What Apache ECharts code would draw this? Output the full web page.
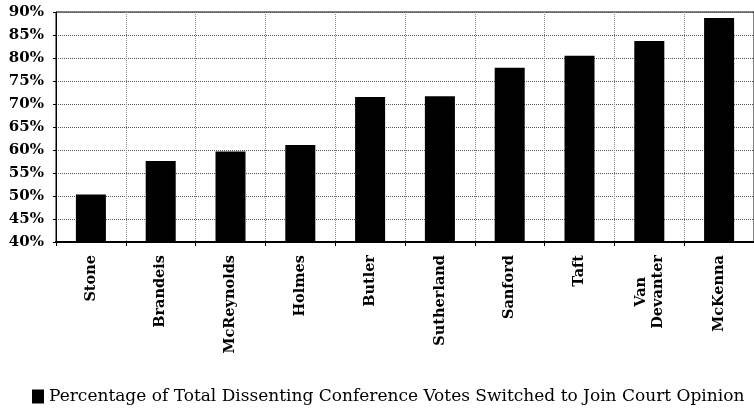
<!DOCTYPE html>
<html>
<head>
<meta charset="utf-8">
<script src="https://cdn.jsdelivr.net/npm/echarts@6/dist/echarts.min.js"></script>
<style>
  html, body { margin: 0; padding: 0; background: #fff; }
  #chart { width: 754px; height: 409px; }
</style>
</head>
<body>
<div id="chart"></div>
<script>
const justices = ["Stone", "Brandeis", "McReynolds", "Holmes", "Butler",
  "Sutherland", "Sanford", "Taft", "Van\nDevanter", "McKenna"];
const switchedPct = [50.3, 57.6, 59.7, 61.1, 71.5, 71.7, 77.9, 80.5, 83.7, 88.7];
const seriesName = "Percentage of Total Dissenting Conference Votes Switched to Join Court Opinion";

const chart = echarts.init(document.getElementById("chart"));

const labelFont = {
  color: "#000",
  fontFamily: "DejaVu Serif",
  fontWeight: "bold",
  fontSize: 14.5,
  lineHeight: 17,
};

const option = {
  animation: false,
  textStyle: { fontFamily: "DejaVu Serif" },
  grid: {
    left: 56,
    right: -2,
    top: 12,
    bottom: 167,
    show: true,
    borderColor: "#000",
    borderWidth: 1,
  },
  legend: {
    top: 383,
    left: 27,
    icon: "rect",
    itemWidth: 12,
    itemHeight: 14,
    textStyle: { fontFamily: "DejaVu Serif", fontSize: 17, color: "#000" },
    data: [seriesName],
  },
  xAxis: {
    type: "category",
    data: justices,
    axisLine: { lineStyle: { color: "#000", width: 2 } },
    axisTick: { show: true, length: 4, lineStyle: { color: "#000" } },
    splitLine: { show: true, lineStyle: { color: "#888", type: "dotted", width: 1 } },
    axisLabel: Object.assign({
      rotate: 90,
      margin: 13,
      interval: 0,
      formatter: (v) => v.indexOf("\n") >= 0
        ? v.split("\n").map((s) => "{c|" + s + "}").join("\n")
        : v,
      rich: { c: Object.assign({ align: "center" }, labelFont) },
    }, labelFont),
  },
  yAxis: {
    type: "value",
    min: 40,
    max: 90,
    interval: 5,
    axisLine: { show: true, lineStyle: { color: "#000", width: 1 } },
    axisTick: { show: true, length: 3, lineStyle: { color: "#000" } },
    splitLine: { show: true, lineStyle: { color: "#555", type: "dotted", width: 1 } },
    axisLabel: {
      formatter: "{value}%",
      margin: 12,
      color: "#000",
      fontFamily: "DejaVu Serif",
      fontWeight: "bold",
      fontSize: 15,
    },
  },
  series: [
    {
      name: seriesName,
      type: "bar",
      data: switchedPct,
      barWidth: "43%",
      itemStyle: { color: "#000" },
    },
  ],
};

chart.setOption(option);
</script>
</body>
</html>
